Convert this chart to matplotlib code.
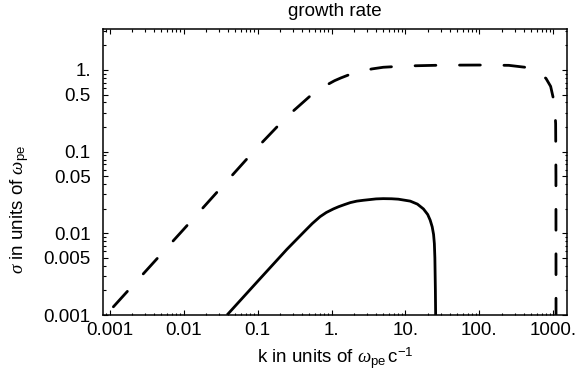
import matplotlib
matplotlib.use("Agg")
import matplotlib.pyplot as plt
from matplotlib.ticker import FixedLocator, FixedFormatter, NullFormatter
import numpy as np

plt.rcParams['font.family'] = ['Liberation Sans', 'DejaVu Sans']
plt.rcParams['mathtext.fontset'] = 'custom'
plt.rcParams['mathtext.rm'] = 'Liberation Sans'
plt.rcParams['mathtext.it'] = 'Liberation Serif:italic'
plt.rcParams['lines.scale_dashes'] = False

# data
k_solid = [0.0386, 0.1, 0.249, 0.45, 0.55, 0.70, 0.85, 1.06, 1.25, 1.5, 1.8, 2.2, 2.7,
           3.3, 4.0, 5.0, 6.5, 8.0, 11.6, 14.5, 17.5, 20.0, 21.6, 23.0, 24.0, 24.6,
           25.0, 25.4, 25.6]
sigma_solid = [0.001, 0.00258, 0.00637, 0.0110, 0.0132, 0.0160, 0.0180, 0.0199, 0.0212,
               0.0225, 0.0238, 0.0248, 0.0254, 0.0259, 0.0264, 0.0266, 0.0265, 0.0262,
               0.0248, 0.0228, 0.0199, 0.0170, 0.0145, 0.0120, 0.0097, 0.0075,
               0.0050, 0.0020, 0.0010]

k_dashed = [0.00112, 0.01, 0.093, 0.244, 0.5, 0.74, 0.9, 1.1, 1.34, 1.7, 2.0, 2.6, 3.5,
            5.0, 10.0, 30.0, 100.0, 250.0, 415.0, 600.0, 795.0, 920.0, 1000.0, 1050.0,
            1075.0, 1085.0, 1088.0]
sigma_dashed = [0.00126, 0.0112, 0.106, 0.264, 0.47, 0.61, 0.67, 0.74, 0.80, 0.87, 0.91,
                0.97, 1.03, 1.08, 1.12, 1.145, 1.15, 1.14, 1.08, 0.95, 0.79, 0.63, 0.45,
                0.32, 0.22, 0.05, 0.001]

x_major = [0.001, 0.01, 0.1, 1, 10, 100, 1000]
x_labels = ["0.001", "0.01", "0.1", "1.", "10.", "100.", "1000."]
y_major = [0.001, 0.005, 0.01, 0.05, 0.1, 0.5, 1]
y_labels = ["0.001", "0.005", "0.01", "0.05", "0.1", "0.5", "1."]

fs = 13.5
fig = plt.figure(figsize=(5.75, 3.81), dpi=100)
ax = fig.add_axes([103.3/575, 1-315/381, (566.7-103.3)/575, (315-29)/381])

ax.plot(k_solid, sigma_solid, color='black', lw=2.0, solid_capstyle='butt',
        solid_joinstyle='round')
ax.plot(k_dashed, sigma_dashed, color='black', lw=2.0, dashes=(15, 17),
        dash_capstyle='round', dash_joinstyle='round')

ax.set_xscale('log')
ax.set_yscale('log')
ax.set_xlim(10**-3.087, 10**3.181)
ax.set_ylim(0.001, 10**0.502)

ax.xaxis.set_major_locator(FixedLocator(x_major))
ax.xaxis.set_major_formatter(FixedFormatter(x_labels))
xm = [s * 10.0**e for e in range(-4, 4) for s in range(2, 10)]
ax.xaxis.set_minor_locator(FixedLocator(xm))
ax.xaxis.set_minor_formatter(NullFormatter())

ax.yaxis.set_major_locator(FixedLocator(y_major))
ax.yaxis.set_major_formatter(FixedFormatter(y_labels))
ym = [s * 10.0**e for e in range(-4, 2) for s in (2, 3, 4, 6, 7, 8, 9)]
ax.yaxis.set_minor_locator(FixedLocator(ym))
ax.yaxis.set_minor_formatter(NullFormatter())

for sp in ax.spines.values():
    sp.set_linewidth(1.1)

ax.tick_params(which='both', direction='in', top=True, right=True, width=0.8,
               labelsize=fs, colors='black')
ax.tick_params(which='major', length=3.6)
ax.tick_params(which='minor', length=1.8)
ax.tick_params(axis='x', which='major', pad=5)
ax.tick_params(axis='y', which='major', pad=9)

fig.text(335/575, 1-12/381, "growth rate", ha='center', va='center', fontsize=fs)
fig.text(335/575, 1-358/381, r"k in units of $\omega_{\mathrm{pe}}\,\mathrm{c}^{-1}$",
         ha='center', va='center', fontsize=fs)
fig.text(20/575, 172/381, r"$\sigma$ in units of $\omega_{\mathrm{pe}}$",
         ha='center', va='center', rotation=90, fontsize=fs)

fig.savefig("out.png", dpi=100)
